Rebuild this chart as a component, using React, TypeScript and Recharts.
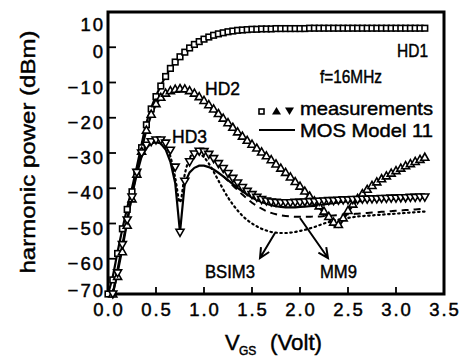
import React from 'react';
import { ComposedChart, Line, XAxis, YAxis, ReferenceArea } from 'recharts';

// gate voltage grid of the measurements (V)
const vgs = [
  0, 0.05, 0.1, 0.15, 0.2, 0.25, 0.3, 0.35, 0.4, 0.45,
  0.5, 0.55, 0.6, 0.65, 0.7, 0.75, 0.8, 0.85, 0.9, 0.95,
  1.0, 1.05, 1.1, 1.15, 1.2, 1.25, 1.3, 1.35, 1.4, 1.45,
  1.5, 1.55, 1.6, 1.65, 1.7, 1.75, 1.8, 1.85, 1.9, 1.95,
  2.0, 2.05, 2.1, 2.15, 2.2, 2.25, 2.3, 2.35, 2.4, 2.45,
  2.5, 2.55, 2.6, 2.65, 2.7, 2.75, 2.8, 2.85, 2.9, 2.95,
  3.0, 3.05, 3.1, 3.15, 3.2, 3.25, 3.3,
];

// measurements (dBm)
const hd1Meas = [
  -70, -66, -58.5, -51.5, -46, -41, -35.5, -28.5, -22, -17.5,
  -14, -11, -8.3, -6, -4.2, -2.7, -1.4, -0.2, 0.8, 1.6,
  2.3, 2.9, 3.4, 3.8, 4.1, 4.4, 4.6, 4.8, 4.9, 5,
  5.1, 5.1, 5.2, 5.2, 5.2, 5.3, 5.3, 5.3, 5.3, 5.3,
  5.3, 5.3, 5.4, 5.4, 5.4, 5.4, 5.4, 5.4, 5.4, 5.4,
  5.4, 5.4, 5.4, 5.4, 5.4, 5.4, 5.4, 5.4, 5.4, 5.4,
  5.4, 5.4, 5.4, 5.4, 5.4, 5.4, 5.4,
];
const hd2Meas = [
  null, -70, -65, -58, -50.5, -43, -36, -29.5, -23.5, -19,
  -16, -14.2, -13, -12.3, -11.9, -11.7, -11.8, -12.3, -13, -14,
  -15.1, -16.3, -17.5, -18.8, -20.1, -21.4, -22.7, -24, -25.2, -26.4,
  -27.5, -28.6, -29.7, -30.8, -31.9, -33.1, -34.3, -35.5, -36.8, -38.1,
  -39.4, -40.8, -42.2, -43.6, -45, -46.5, -48, -49.6, -50.3, -48.4,
  -46.3, -44.5, -42.9, -41.5, -40.3, -39.2, -38.2, -37.3, -36.5, -35.7,
  -35, -34.3, -33.6, -33, -32.4, -31.8, -31.2,
];
const hd3Meas = [
  null, -70, -64, -56, -49, -42.5, -35.5, -30, -27.8, -26.8,
  -26.3, -26.3, -27.2, -29.2, -34, -52.5, -38, -32.5, -30.3, -29.5,
  -29.6, -30.4, -31.6, -33, -34.4, -35.8, -37.2, -38.5, -39.8, -40.9,
  -41.8, -42.6, -43.2, -43.6, -43.9, -44, -44.1, -44.1, -44.1, -44,
  -44, -43.9, -43.8, -43.8, -43.7, -43.6, -43.5, -43.5, -43.4, -43.3,
  -43.3, -43.2, -43.2, -43.1, -43.1, -43, -43, -42.9, -42.9, -42.8,
  -42.8, -42.7, -42.7, -42.6, -42.6, -42.5, -42.5,
];

// MOS Model 11 simulations (dBm)
const hd1Model = [
  -70, -65, -58, -51.5, -45.5, -40, -34, -27.5, -21.5, -17.2,
  -13.8, -10.9, -8.3, -6.1, -4.3, -2.8, -1.5, -0.3, 0.7, 1.5,
  2.2, 2.8, 3.3, 3.7, 4.1, 4.4, 4.6, 4.8, 4.9, 5,
  5.1, 5.1, 5.2, 5.2, 5.2, 5.3, 5.3, 5.3, 5.3, 5.3,
  5.3, 5.3, 5.3, 5.4, 5.4, 5.4, 5.4, 5.4, 5.4, 5.4,
  5.4, 5.4, 5.4, 5.4, 5.4, 5.4, 5.4, 5.4, 5.4, 5.4,
  5.4, 5.4, 5.4, 5.4, 5.4, 5.4, 5.4,
];
const hd2Model = [
  null, -70, -64, -57, -49.5, -42, -35, -29, -23.5, -19.2,
  -16.2, -14.3, -13.1, -12.4, -12, -11.9, -12.1, -12.6, -13.3, -14.3,
  -15.4, -16.6, -17.8, -19.1, -20.4, -21.7, -23, -24.2, -25.4, -26.6,
  -27.7, -28.8, -29.9, -31, -32.1, -33.3, -34.5, -35.7, -37, -38.3,
  -39.7, -41.1, -42.5, -44, -45.5, -47, -48.7, -50.5, -51, -49,
  -46.8, -44.9, -43.2, -41.8, -40.5, -39.4, -38.4, -37.5, -36.7, -35.9,
  -35.2, -34.5, -33.8, -33.2, -32.6, -32, -31.4,
];
const hd3Model = [
  null, -70, -63, -56, -49, -42, -36, -31, -28.5, -27.3,
  -26.9, -27.3, -29, -32.5, -38.5, -52.5, -38.5, -35.5, -34.2, -33.6,
  -33.6, -34, -34.7, -35.6, -36.6, -37.7, -38.8, -39.9, -40.9, -41.8,
  -42.6, -43.3, -43.9, -44.4, -44.8, -45.1, -45.3, -45.4, -45.4, -45.4,
  -45.3, -45.2, -45.1, -45, -44.8, -44.6, -44.4, -44.2, -44, -43.8,
  -43.7, -43.6, -43.5, -43.4, -43.3, -43.2, -43.2, -43.1, -43.1, -43,
  -43, -42.9, -42.9, -42.8, -42.8, -42.7, -42.7,
];
// other models for HD3 (dBm)
const bsim3 = [
  null, null, null, null, null, null, null, null, null, null,
  null, null, -28, -31, -37, -44, -36, -31.5, -30, -30.2,
  -31.2, -33, -35.3, -37.8, -40.3, -42.6, -44.6, -46.3, -47.8, -49,
  -50, -50.8, -51.5, -52, -52.4, -52.6, -52.7, -52.7, -52.6, -52.4,
  -52.1, -51.8, -51.4, -51, -50.5, -50, -49.6, -49.2, -48.9, -48.6,
  -48.4, -48.2, -48, -47.9, -47.8, -47.7, -47.6, -47.5, -47.4, -47.3,
  -47.2, -47.1, -47, -46.9, -46.8, -46.7, -46.6,
];
const mm9 = [
  null, null, null, null, null, null, null, null, null, null,
  null, null, null, null, null, null, null, null, null, null,
  null, null, null, null, -36.6, -37.9, -39.2, -40.5, -41.8, -43,
  -44.1, -45, -45.8, -46.5, -47, -47.4, -47.7, -47.9, -48, -48.1,
  -48.1, -48.1, -48.1, -48, -48, -47.9, -47.8, -47.7, -47.6, -47.5,
  -47.4, -47.3, -47.2, -47.1, -47, -46.9, -46.8, -46.7, -46.6, -46.5,
  -46.4, -46.3, -46.2, -46.1, -46, -45.9, -45.8,
];

const xTicks = [0, 0.5, 1, 1.5, 2, 2.5, 3, 3.5];
const yTicks = [10, 0, -10, -20, -30, -40, -50, -60, -70];

const rows = vgs.map((v, i) => ({
  v,
  hd1: hd1Meas[i],
  hd2: hd2Meas[i],
  hd3: hd3Meas[i],
  hd1m: hd1Model[i],
  hd2m: hd2Model[i],
  hd3m: hd3Model[i],
  bsim3: bsim3[i],
  mm9: mm9[i],
}));

const FONT = '"Liberation Sans", Arial, sans-serif';
// scanned look: glyphs are a bit heavier than a plain regular face
const INK = { fill: '#000', stroke: '#000', strokeWidth: 0.45 };

const fmt = (n: number) => (n < 0 ? '\u2212' + Math.abs(n) : String(n));

const SquareDot = (p: any) => {
  if (p.cy == null || p.value == null) return <g key={p.key} />;
  return (
    <rect key={p.key} x={p.cx - 2.8} y={p.cy - 2.8} width={5.6} height={5.6}
      fill="#fff" stroke="#000" strokeWidth={1.6} />
  );
};
const UpDot = (p: any) => {
  if (p.cy == null || p.value == null) return <g key={p.key} />;
  const { cx, cy } = p;
  return (
    <path key={p.key} d={`M${cx},${cy - 4}L${cx + 4},${cy + 3}L${cx - 4},${cy + 3}Z`}
      fill="#fff" stroke="#000" strokeWidth={1.6} />
  );
};
const DownDot = (p: any) => {
  if (p.cy == null || p.value == null) return <g key={p.key} />;
  const { cx, cy } = p;
  return (
    <path key={p.key} d={`M${cx},${cy + 4}L${cx + 4},${cy - 3}L${cx - 4},${cy - 3}Z`}
      fill="#fff" stroke="#000" strokeWidth={1.6} />
  );
};

const XTick = (p: any) => (
  <text x={p.x + 1} y={p.y + 22} textAnchor="middle" fontFamily={FONT} fontSize={18.5}
    letterSpacing={2} {...INK}>
    {p.payload.value.toFixed(1)}
  </text>
);

const YTick = (p: any) => {
  const v = p.payload.value;
  const dy = v === 10 ? 18.5 : v === -70 ? 2.7 : 11;
  return (
    <text x={p.x - 3} y={p.y + dy} textAnchor="end" fontFamily={FONT} fontSize={18.5}
      letterSpacing={2} {...INK}>
      {fmt(v)}
    </text>
  );
};

const arrow = (x1: number, y1: number, x2: number, y2: number) => {
  const a = Math.atan2(y1 - y2, x1 - x2);
  const len = 11;
  const s = 0.45;
  const h1 = [x2 + len * Math.cos(a + s), y2 + len * Math.sin(a + s)];
  const h2 = [x2 + len * Math.cos(a - s), y2 + len * Math.sin(a - s)];
  return `M${x1},${y1}L${x2},${y2}M${h1[0]},${h1[1]}L${x2},${y2}L${h2[0]},${h2[1]}`;
};

const Label = ({ x, y, w, children, size = 18.5 }: any) => (
  <text x={x} y={y} fontFamily={FONT} fontSize={size} {...INK}
    textLength={w} lengthAdjust="spacingAndGlyphs">
    {children}
  </text>
);

export default function App() {
  return (
    <div style={{ position: 'relative', width: 462, height: 357, background: '#fff' }}>
      <style>{'body{margin:0}'}</style>
      <ComposedChart width={462} height={357} data={rows}
        margin={{ top: 12, right: 18, bottom: 33, left: 0 }}>
        <XAxis dataKey="v" type="number" domain={[0, 3.5]} ticks={xTicks} interval={0}
          height={30} axisLine={false} tickSize={-7} tickMargin={7}
          tickLine={{ stroke: '#000', strokeWidth: 1.8 }} tick={<XTick />} />
        <YAxis type="number" domain={[-70, 10]} ticks={yTicks} interval={0} width={108}
          axisLine={false} tickSize={-8} tickMargin={8}
          tickLine={{ stroke: '#000', strokeWidth: 1.8 }} tick={<YTick />} />
        <ReferenceArea x1={0} x2={3.5} y1={-70} y2={10} fill="none" stroke="#000"
          strokeWidth={3} ifOverflow="visible" />
        <Line dataKey="hd1m" type="monotone" stroke="#000" strokeWidth={2.2} dot={false}
          activeDot={false} isAnimationActive={false} />
        <Line dataKey="hd2m" type="linear" stroke="#000" strokeWidth={2.2} dot={false}
          activeDot={false} isAnimationActive={false} />
        <Line dataKey="hd3m" type="linear" stroke="#000" strokeWidth={2.2} dot={false}
          activeDot={false} isAnimationActive={false} />
        <Line dataKey="bsim3" type="monotone" stroke="#000" strokeWidth={2.2}
          strokeDasharray="1.5 3.5" strokeLinecap="round" dot={false}
          activeDot={false} isAnimationActive={false} />
        <Line dataKey="mm9" type="monotone" stroke="#000" strokeWidth={2}
          strokeDasharray="7 5" dot={false} activeDot={false} isAnimationActive={false} />
        <Line dataKey="hd1" stroke="none" strokeWidth={0} dot={SquareDot}
          activeDot={false} isAnimationActive={false} />
        <Line dataKey="hd2" stroke="none" strokeWidth={0} dot={UpDot}
          activeDot={false} isAnimationActive={false} />
        <Line dataKey="hd3" stroke="none" strokeWidth={0} dot={DownDot}
          activeDot={false} isAnimationActive={false} />
      </ComposedChart>
      <svg width={462} height={357} style={{ position: 'absolute', left: 0, top: 0 }}>
        <text x={35} y={152} transform="rotate(-90 35 152)" textAnchor="middle"
          fontFamily={FONT} fontSize={20} {...INK} textLength={243}
          lengthAdjust="spacingAndGlyphs">
          harmonic power (dBm)
        </text>
        <text x={225} y={350} fontFamily={FONT} fontSize={22} {...INK}>V</text>
        <text x={239} y={355} fontFamily={FONT} fontSize={12} {...INK}>GS</text>
        <text x={270} y={350} fontFamily={FONT} fontSize={22} {...INK}
          textLength={52} lengthAdjust="spacingAndGlyphs">(Volt)</text>

        <Label x={397} y={57} w={31}>HD1</Label>
        <Label x={205} y={95} w={35}>HD2</Label>
        <Label x={172} y={143} w={35}>HD3</Label>
        <Label x={320} y={83} w={62}>f=16MHz</Label>

        <rect x={259} y={109} width={5} height={5} fill="#fff" stroke="#000" strokeWidth={1.6} />
        <path d="M276.5,107L281,114.5L272,114.5Z" fill="#000" />
        <path d="M289.5,115L294,107.5L285,107.5Z" fill="#000" />
        <Label x={300} y={115} w={133}>measurements</Label>
        <line x1={259} y1={130} x2={295} y2={130} stroke="#000" strokeWidth={2} />
        <Label x={300} y={137} w={133}>MOS  Model  11</Label>

        <Label x={205} y={278} w={50}>BSIM3</Label>
        <Label x={320} y={278} w={37}>MM9</Label>
        <path d={arrow(275, 233, 260, 258)} stroke="#000" strokeWidth={2} fill="none" />
        <path d={arrow(300, 218, 328, 258)} stroke="#000" strokeWidth={2} fill="none" />
      </svg>
    </div>
  );
}
